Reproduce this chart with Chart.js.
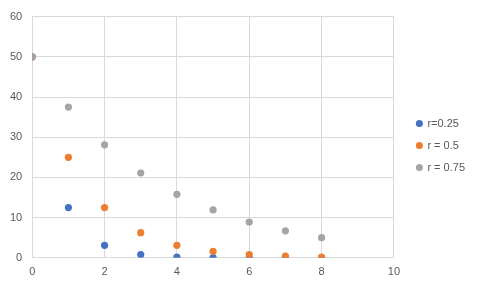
<!DOCTYPE html>
<html>
<head>
<meta charset="utf-8">
<script src="https://cdn.jsdelivr.net/npm/chart.js@4/dist/chart.umd.min.js"></script>
<style>
  html, body { margin: 0; padding: 0; background: #fff; }
  #chart { display: block; }
</style>
</head>
<body>
<canvas id="chart" width="480" height="288"></canvas>
<script>
'use strict';

//***********Data***********
let xValues = [0, 1, 2, 3, 4, 5, 6, 7, 8];
let seriesNames = ['r=0.25', 'r = 0.5', 'r = 0.75'];
let quarterValues = [50, 12.5, 3.1, 0.8, 0.2, 0.05, 0.01, 0.003, 0.001];
let halfValues = [50, 25, 12.5, 6.25, 3.1, 1.6, 0.8, 0.4, 0.2];
let threeQuarterValues = [50, 37.5, 28.1, 21.1, 15.8, 11.9, 8.9, 6.7, 5.0];
let seriesColors = ['#4472C4', '#ED7D31', '#A5A5A5'];

let xTicks = [0, 2, 4, 6, 8, 10];
let yTicks = [0, 10, 20, 30, 40, 50, 60];

//***********Helpers***********
function toPoints(values) {
  let points = [];
  for (let i = 0; i < xValues.length; i++) {
    points.push({ x: xValues[i], y: values[i] });
  }
  return points;
}

let allSeries = [quarterValues, halfValues, threeQuarterValues];
let datasets = [];
for (let i = 0; i < allSeries.length; i++) {
  datasets.push({
    label: seriesNames[i],
    data: toPoints(allSeries[i]),
    backgroundColor: seriesColors[i],
    borderColor: seriesColors[i],
    borderWidth: 0,
    pointRadius: 3.6,
    pointHoverRadius: 3.6,
    // later series drawn on top, like the original
    order: allSeries.length - i
  });
}

let gridColor = '#d9d9d9';
let textColor = '#595959';
let legendGap = 12;

// push the legend away from the plot area a bit
let legendGapPlugin = {
  id: 'legendGap',
  beforeInit(chart) {
    let legend = chart.legend;
    let origFit = legend.fit;
    legend.fit = function () {
      origFit.call(this);
      this.width += legendGap;
    };
  },
  afterLayout(chart) {
    chart.legend.left += legendGap;
  }
};

let ctx = document.getElementById('chart').getContext('2d');
new Chart(ctx, {
  type: 'scatter',
  data: { datasets: datasets },
  plugins: [legendGapPlugin],
  options: {
    responsive: false,
    animation: false,
    layout: { padding: { top: 4, left: 0, right: 5, bottom: 1 } },
    plugins: {
      tooltip: { enabled: false },
      legend: {
        position: 'right',
        labels: {
          usePointStyle: true,
          pointStyle: 'circle',
          boxWidth: 5,
          boxHeight: 5,
          padding: 11,
          color: textColor,
          font: { family: '"Liberation Sans", sans-serif', size: 11 },
          sort: (a, b) => a.datasetIndex - b.datasetIndex
        }
      }
    },
    scales: {
      x: {
        type: 'linear',
        min: 0,
        max: 10,
        afterBuildTicks: (axis) => { axis.ticks = xTicks.map(v => ({ value: v })); },
        grid: { color: gridColor, drawTicks: false },
        border: { color: gridColor },
        ticks: {
          padding: 8,
          color: textColor,
          font: { family: '"Liberation Sans", sans-serif', size: 11 }
        }
      },
      y: {
        min: 0,
        max: 60,
        afterBuildTicks: (axis) => { axis.ticks = yTicks.map(v => ({ value: v })); },
        grid: { color: gridColor, drawTicks: false },
        border: { color: gridColor },
        ticks: {
          padding: 10,
          color: textColor,
          font: { family: '"Liberation Sans", sans-serif', size: 11 }
        }
      }
    }
  }
});
</script>
</body>
</html>
